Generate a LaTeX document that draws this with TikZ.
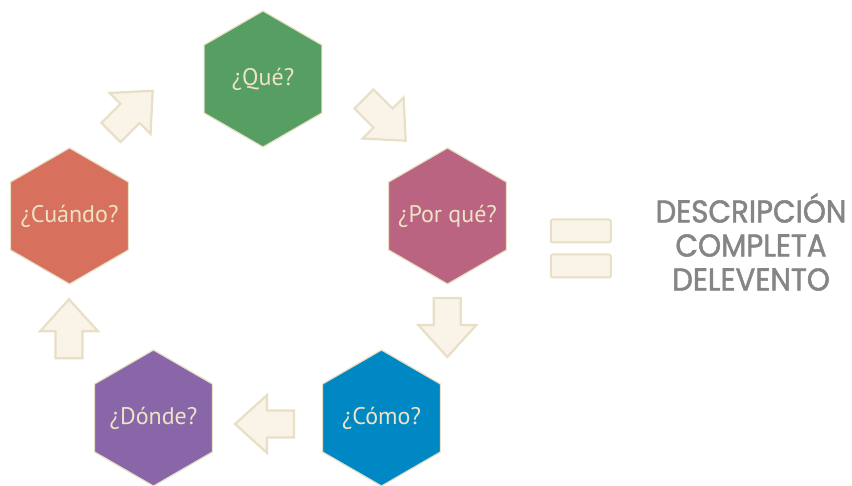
\documentclass[tikz,border=0pt]{standalone}
\usepackage{fontspec}
\usetikzlibrary{shapes.geometric}
\setmainfont{PT Sans}
\newfontfamily\headfont[FakeStretch=0.93,FakeBold=1.6]{Poppins}

\definecolor{qgreen}{HTML}{569E62}
\definecolor{qrose}{HTML}{BA6482}
\definecolor{qcoral}{HTML}{D8705E}
\definecolor{qpurple}{HTML}{8866A8}
\definecolor{qblue}{HTML}{0088C4}
\definecolor{creamtext}{HTML}{EDE3C6}
\definecolor{creamedge}{HTML}{E7DFC6}
\definecolor{creamfill}{HTML}{FAF3E7}
\definecolor{headgray}{HTML}{858585}

% the label is boxed at zero width so that every cell keeps the same size
\newcommand\celllabel[1]{\makebox[0pt]{#1}}

\tikzset{
  hexcell/.style={regular polygon, regular polygon sides=6, shape border rotate=30,
    minimum size=136pt, inner sep=0pt, draw=creamedge, line width=1.2pt,
    text=creamtext, font=\fontsize{24}{28}\selectfont},
  arrowline/.style={draw=creamedge, fill=creamfill, line width=2.2pt, line join=miter},
  blockarrow/.pic={\path[arrowline] (0,-13.5) -- (27,-13.5) -- (27,-29) -- (59,0)
    -- (27,29) -- (27,13.5) -- (0,13.5) -- cycle;},
  eqbar/.style={draw=creamedge, fill=creamfill, line width=2pt, rounded corners=2pt,
    minimum width=60pt, minimum height=23pt, inner sep=0pt}
}

\begin{document}
\begin{tikzpicture}[x=1pt,y=1pt]
  \useasboundingbox (0,0) rectangle (852,485);

  % the five question cells
  \node[hexcell, fill=qgreen]  (que)    at (263,406)   {\celllabel{¿Qué?}};
  \node[hexcell, fill=qrose]   (porque) at (447.5,269) {\celllabel{¿Por qué?}};
  \node[hexcell, fill=qblue]   (como)   at (381.5,67)  {\celllabel{¿Cómo?}};
  \node[hexcell, fill=qpurple] (donde)  at (153.5,67)  {\celllabel{¿Dónde?}};
  \node[hexcell, fill=qcoral]  (cuando) at (69.5,269)  {\celllabel{¿Cuándo?}};

  % block arrows running round the cycle
  \coordinate (a1) at (364,386);
  \coordinate (a2) at (447.3,187);
  \coordinate (a3) at (294,61);
  \coordinate (a4) at (69,126.7);
  \coordinate (a5) at (111,352.5);
  \pic[rotate=-45] at (a1) {blockarrow};
  \pic[rotate=-90] at (a2) {blockarrow};
  \pic[rotate=180] at (a3) {blockarrow};
  \pic[rotate=90]  at (a4) {blockarrow};
  \pic[rotate=45]  at (a5) {blockarrow};

  % equals sign
  \node[eqbar] (eqtop) at (580.8,254) {};
  \node[eqbar] (eqbot) at (580.8,219) {};

  % result
  \node[align=center, text=headgray, font=\headfont\fontsize{31.5}{34}\selectfont]
    (result) at (751,243) {DESCRIPCIÓN\\COMPLETA\\DELEVENTO};
\end{tikzpicture}
\end{document}
